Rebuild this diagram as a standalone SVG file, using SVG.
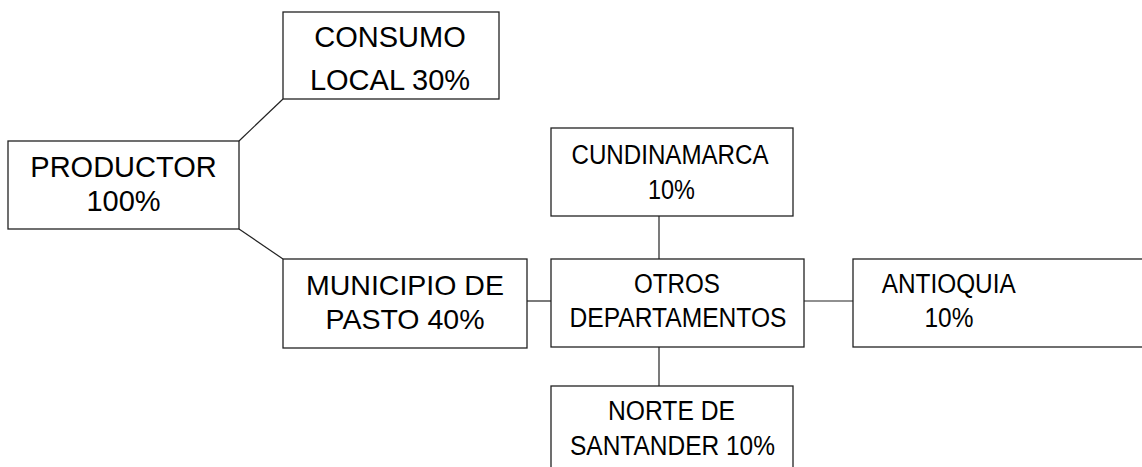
<svg xmlns="http://www.w3.org/2000/svg" width="1142" height="467" viewBox="0 0 1142 467">
<style>
rect{fill:#fff;stroke:#222;stroke-width:1.3}
line{stroke:#222;stroke-width:1.2}
text{font-family:"Liberation Sans",Arial,sans-serif;fill:#000;text-anchor:middle}
.l{font-size:29px}
.m{font-size:28.5px}
.r{font-size:27px}
</style>
<rect x="0" y="0" width="1142" height="467" style="fill:#fff;stroke:none"/>
<g id="connectors">
<line x1="239" y1="141" x2="283" y2="99"/>
<line x1="239" y1="229" x2="283" y2="259"/>
<line x1="527" y1="301" x2="551" y2="301"/>
<line x1="804" y1="301" x2="853" y2="301"/>
<line x1="659" y1="216" x2="659" y2="259"/>
<line x1="659" y1="347" x2="659" y2="386"/>
</g>
<g id="consumo">
<rect x="283" y="12" width="216" height="87"/>
<text class="l" x="390" y="47">CONSUMO</text>
<text class="l" x="390" y="90">LOCAL 30%</text>
</g>
<g id="productor">
<rect x="8" y="141" width="231" height="88"/>
<text class="l" x="123.5" y="177">PRODUCTOR</text>
<text class="l" x="123.5" y="211">100%</text>
</g>
<g id="municipio">
<rect x="283" y="259" width="244" height="89"/>
<text class="m" x="405" y="295">MUNICIPIO DE</text>
<text class="m" x="405" y="329">PASTO 40%</text>
</g>
<g id="cundinamarca">
<rect x="551" y="128" width="242" height="88"/>
<text class="r" x="670" y="164" textLength="197" lengthAdjust="spacingAndGlyphs">CUNDINAMARCA</text>
<text class="r" x="671.5" y="199" textLength="47" lengthAdjust="spacingAndGlyphs">10%</text>
</g>
<g id="otros">
<rect x="551" y="259" width="253" height="88"/>
<text class="r" x="677" y="293" textLength="86" lengthAdjust="spacingAndGlyphs">OTROS</text>
<text class="r" x="678" y="327" textLength="217" lengthAdjust="spacingAndGlyphs">DEPARTAMENTOS</text>
</g>
<g id="antioquia">
<rect x="853" y="259" width="310" height="88"/>
<text class="r" x="948.7" y="293" textLength="134" lengthAdjust="spacingAndGlyphs">ANTIOQUIA</text>
<text class="r" x="949" y="327" textLength="49" lengthAdjust="spacingAndGlyphs">10%</text>
</g>
<g id="norte">
<rect x="551" y="386" width="242" height="100"/>
<text class="r" x="671.5" y="420" textLength="127" lengthAdjust="spacingAndGlyphs">NORTE DE</text>
<text class="r" x="672.5" y="455" textLength="205" lengthAdjust="spacingAndGlyphs">SANTANDER 10%</text>
</g>
</svg>
